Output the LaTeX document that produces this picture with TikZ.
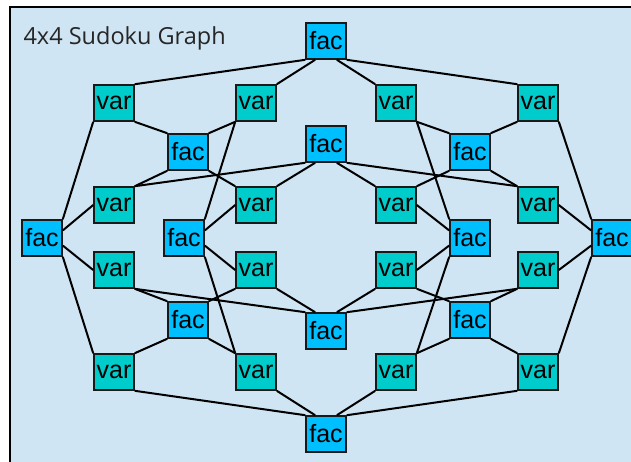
\documentclass[tikz,border=0pt]{standalone}
\usepackage{fontspec}
\setmainfont{Liberation Sans}
\newfontfamily\titlefont{Open Sans}
\definecolor{facblue}{HTML}{00BFFF}
\definecolor{varteal}{HTML}{00CCCC}
\definecolor{paneblue}{HTML}{D0E5F3}

\begin{document}
\begin{tikzpicture}[x=1pt,y=-1pt,
  facbox/.style={draw=black!90,line width=1.6pt,fill=facblue,minimum width=40pt,minimum height=36pt,inner sep=0pt,font=\fontsize{25}{25}\selectfont},
  varbox/.style={facbox,fill=varteal},
  link/.style={line width=2pt}]
\useasboundingbox (0,0) rectangle (631,461);
\clip (0,0) rectangle (631,461);
% panel
\fill[paneblue] (10,7) rectangle (640,470);
\draw[line width=1.5pt] (10,470)--(10,7)--(640,7);
\node[anchor=base west,text=black!85,font=\titlefont\fontsize{23.5}{24}\selectfont] (title) at (20,44) {4x4 Sudoku Graph};
% variables, row by row
\node[varbox] (v11) at (114,103) {var};\node[varbox] (v12) at (256,103) {var};\node[varbox] (v13) at (396,103) {var};\node[varbox] (v14) at (538,103) {var};
\node[varbox] (v21) at (114,205) {var};\node[varbox] (v22) at (256,205) {var};\node[varbox] (v23) at (396,205) {var};\node[varbox] (v24) at (538,205) {var};
\node[varbox] (v31) at (114,270) {var};\node[varbox] (v32) at (256,270) {var};\node[varbox] (v33) at (396,270) {var};\node[varbox] (v34) at (538,270) {var};
\node[varbox] (v41) at (114,372) {var};\node[varbox] (v42) at (256,372) {var};\node[varbox] (v43) at (396,372) {var};\node[varbox] (v44) at (538,372) {var};
% row factors
\node[facbox] (r1) at (326,41) {fac};\node[facbox] (r2) at (326,144) {fac};
\node[facbox] (r3) at (326,331) {fac};\node[facbox] (r4) at (326,434) {fac};
% column factors
\node[facbox] (c1) at (42,238) {fac};\node[facbox] (c2) at (184,238) {fac};
\node[facbox] (c3) at (470,238) {fac};\node[facbox] (c4) at (612,238) {fac};
% box factors
\node[facbox] (b1) at (188,152) {fac};\node[facbox] (b2) at (470,152) {fac};
\node[facbox] (b3) at (188,320) {fac};\node[facbox] (b4) at (470,320) {fac};
% rows
\draw[link] (r1.south west)--(v11.north east);\draw[link] (r1.240)--(v12.north east);\draw[link] (r1.300)--(v13.north west);\draw[link] (r1.south east)--(v14.north west);
\draw[link] (r2.south west)--(v21.north east);\draw[link] (r2.240)--(v22.north east);\draw[link] (r2.300)--(v23.north west);\draw[link] (r2.south east)--(v24.north west);
\draw[link] (r3.north west)--(v31.south east);\draw[link] (r3.120)--(v32.south east);\draw[link] (r3.60)--(v33.south west);\draw[link] (r3.north east)--(v34.south west);
\draw[link] (r4.north west)--(v41.south east);\draw[link] (r4.120)--(v42.south east);\draw[link] (r4.60)--(v43.south west);\draw[link] (r4.north east)--(v44.south west);
% columns
\draw[link] (c1.north east)--(v11.south west);\draw[link] (c1.20)--(v21.west);\draw[link] (c1.-20)--(v31.west);\draw[link] (c1.south east)--(v41.north west);
\draw[link] (c2.north east)--(v12.south west);\draw[link] (c2.20)--(v22.west);\draw[link] (c2.-20)--(v32.west);\draw[link] (c2.south east)--(v42.north west);
\draw[link] (c3.north west)--(v13.south east);\draw[link] (c3.160)--(v23.east);\draw[link] (c3.200)--(v33.east);\draw[link] (c3.south west)--(v43.north east);
\draw[link] (c4.north west)--(v14.south east);\draw[link] (c4.160)--(v24.east);\draw[link] (c4.200)--(v34.east);\draw[link] (c4.south west)--(v44.north east);
% boxes
\draw[link] (b1.north west)--(v11.south east);\draw[link] (b1.north east)--(v12.south west);\draw[link] (b1.south west)--(v21.north east);\draw[link] (b1.south east)--(v22.north west);
\draw[link] (b2.north west)--(v13.south east);\draw[link] (b2.north east)--(v14.south west);\draw[link] (b2.south west)--(v23.north east);\draw[link] (b2.south east)--(v24.north west);
\draw[link] (b3.north west)--(v31.south east);\draw[link] (b3.north east)--(v32.south west);\draw[link] (b3.south west)--(v41.north east);\draw[link] (b3.south east)--(v42.north west);
\draw[link] (b4.north west)--(v33.south east);\draw[link] (b4.north east)--(v34.south west);\draw[link] (b4.south west)--(v43.north east);\draw[link] (b4.south east)--(v44.north west);
\end{tikzpicture}
\end{document}
